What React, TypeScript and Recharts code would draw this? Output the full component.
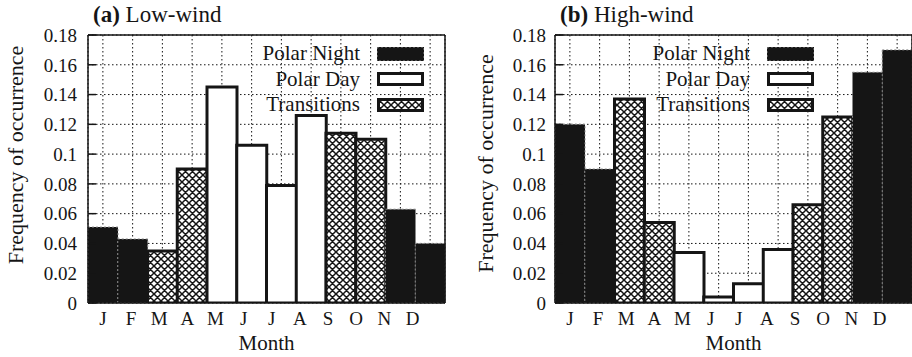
import { BarChart, Bar, Cell, XAxis, YAxis, CartesianGrid, Legend } from 'recharts';

const MONTHS = ['J', 'F', 'M', 'A', 'M', 'J', 'J', 'A', 'S', 'O', 'N', 'D'];
const SEASONS = ['night', 'night', 'trans', 'trans', 'day', 'day', 'day', 'day', 'trans', 'trans', 'night', 'night'];
const LOW_WIND = [0.051, 0.043, 0.035, 0.09, 0.145, 0.106, 0.079, 0.126, 0.114, 0.11, 0.063, 0.04];
const HIGH_WIND = [0.12, 0.09, 0.137, 0.054, 0.034, 0.004, 0.013, 0.036, 0.066, 0.125, 0.155, 0.17];
const Y_TICKS = [0, 0.02, 0.04, 0.06, 0.08, 0.1, 0.12, 0.14, 0.16, 0.18];
const LEGEND_ITEMS = [
  { season: 'night', label: 'Polar Night' },
  { season: 'day', label: 'Polar Day' },
  { season: 'trans', label: 'Transitions' },
];

const FONT = "'Liberation Serif', 'Times New Roman', Times, serif";
const INK = '#151515';

function seasonStyle(season: string, hatchId: string) {
  if (season === 'night') return { fill: INK, stroke: '#8a8a8a', strokeWidth: 1, strokeDasharray: '2 2' };
  if (season === 'day') return { fill: '#fff', stroke: INK, strokeWidth: 3 };
  return { fill: `url(#${hatchId})`, stroke: INK, strokeWidth: 3 };
}

// crosshatch used by the "Transitions" months
function Hatch({ id }: { id: string }) {
  return (
    <pattern id={id} width={7} height={7} patternUnits="userSpaceOnUse">
      <rect width={7} height={7} fill="#fff" />
      <path
        d="M0,0L7,7M7,0L0,7M-1,6L1,8M6,-1L8,1M-1,1L1,-1M6,8L8,6"
        stroke={INK}
        strokeWidth={1.5}
      />
    </pattern>
  );
}

function Swatch({ season, hatchId }: { season: string; hatchId: string }) {
  const st = seasonStyle(season, hatchId);
  const inset = season === 'night' ? 0 : 1.5;
  return (
    <svg width={47} height={14} style={{ display: 'block' }}>
      <defs>
        <Hatch id={hatchId} />
      </defs>
      <rect x={inset} y={inset} width={47 - inset * 2} height={14 - inset * 2} {...st} />
    </svg>
  );
}

function MonthTick(props: any) {
  const { x, y, payload, index } = props;
  return (
    <text
      x={x - index * 1.6}
      y={y}
      dy="0.71em"
      textAnchor="middle"
      fill={INK}
      fontSize={19}
      fontFamily={FONT}
    >
      {payload.value}
    </text>
  );
}

interface PanelProps {
  id: string;
  tag: string;
  name: string;
  values: number[];
  left: number;
  plotLeft: number;
  marginRight: number;
  yTickMargin: number;
  yLabelDx: number;
  yLabelDy: number;
  legendRight: number;
}

function Panel(p: PanelProps) {
  const data = MONTHS.map((m, i) => ({ m, v: p.values[i], s: SEASONS[i] }));
  const hatchId = `hatch-${p.id}`;
  const axisStroke = { stroke: INK, strokeWidth: 1.5 };
  const legendWidth = 200;

  return (
    <div style={{ position: 'absolute', left: p.left, top: 0, width: 456, height: 357 }}>
      <div
        style={{
          position: 'absolute',
          left: p.plotLeft + 5,
          top: 3,
          fontFamily: FONT,
          fontSize: 23,
          lineHeight: '23px',
          color: INK,
          whiteSpace: 'nowrap',
          zIndex: 2,
        }}
      >
        <b>({p.tag})</b> {p.name}
      </div>
      <BarChart
        width={456}
        height={357}
        data={data}
        barCategoryGap={0}
        margin={{ top: 35, right: p.marginRight, bottom: 0, left: 0 }}
      >
        <defs>
          <Hatch id={hatchId} />
        </defs>
        <CartesianGrid stroke={INK} strokeDasharray="1.5 2.5" strokeWidth={1} />
        <Bar dataKey="v" isAnimationActive={false}>
          {data.map((d, i) => (
            <Cell key={i} {...seasonStyle(d.s, hatchId)} />
          ))}
        </Bar>
        <XAxis
          dataKey="m"
          height={54}
          tickLine={false}
          tickSize={0}
          tickMargin={8.5}
          axisLine={axisStroke}
          tick={<MonthTick />}
          label={{
            value: 'Month',
            position: 'insideBottom',
            offset: 7,
            fill: INK,
            fontSize: 21,
            fontFamily: FONT,
          }}
        />
        <XAxis
          xAxisId="top"
          dataKey="m"
          orientation="top"
          mirror
          tick={false}
          tickSize={8}
          axisLine={axisStroke}
          tickLine={axisStroke}
        />
        <YAxis
          width={p.plotLeft}
          domain={[0, 0.18]}
          ticks={Y_TICKS}
          allowDataOverflow
          tickSize={-8}
          tickMargin={p.yTickMargin}
          axisLine={axisStroke}
          tickLine={axisStroke}
          tick={{ fill: INK, fontSize: 19, fontFamily: FONT }}
          label={{
            value: 'Frequency of occurrence',
            angle: -90,
            position: 'center',
            dx: p.yLabelDx,
            dy: p.yLabelDy,
            fill: INK,
            fontSize: 22,
            fontFamily: FONT,
          }}
        />
        <YAxis
          yAxisId="right"
          orientation="right"
          mirror
          width={1}
          domain={[0, 0.18]}
          ticks={Y_TICKS}
          allowDataOverflow
          tick={false}
          tickSize={8}
          axisLine={axisStroke}
          tickLine={axisStroke}
        />
        <Legend
          layout="vertical"
          align="center"
          verticalAlign="middle"
          wrapperStyle={{ left: p.legendRight - legendWidth, top: 41, width: legendWidth }}
          content={() => (
            <div style={{ width: legendWidth }}>
              {LEGEND_ITEMS.map((it) => (
                <div
                  key={it.season}
                  style={{
                    display: 'flex',
                    justifyContent: 'flex-end',
                    alignItems: 'center',
                    height: 25.5,
                  }}
                >
                  <span
                    style={{
                      marginRight: 17,
                      fontFamily: FONT,
                      fontSize: 21,
                      lineHeight: '21px',
                      color: INK,
                      whiteSpace: 'nowrap',
                    }}
                  >
                    {it.label}
                  </span>
                  <Swatch season={it.season} hatchId={`${hatchId}-lg-${it.season}`} />
                </div>
              ))}
            </div>
          )}
        />
      </BarChart>
    </div>
  );
}

export default function App() {
  return (
    <div style={{ position: 'absolute', left: 0, top: 0, width: 912, height: 357, background: '#fff', overflow: 'hidden' }}>
      <Panel
        id="a"
        tag="a"
        name="Low-wind"
        values={LOW_WIND}
        left={0}
        plotLeft={88}
        marginRight={11}
        yTickMargin={19}
        yLabelDx={-29}
        yLabelDy={-14}
        legendRight={424}
      />
      <Panel
        id="b"
        tag="b"
        name="High-wind"
        values={HIGH_WIND}
        left={456}
        plotLeft={99}
        marginRight={0}
        yTickMargin={17}
        yLabelDx={-20}
        yLabelDy={-5.5}
        legendRight={358}
      />
    </div>
  );
}
